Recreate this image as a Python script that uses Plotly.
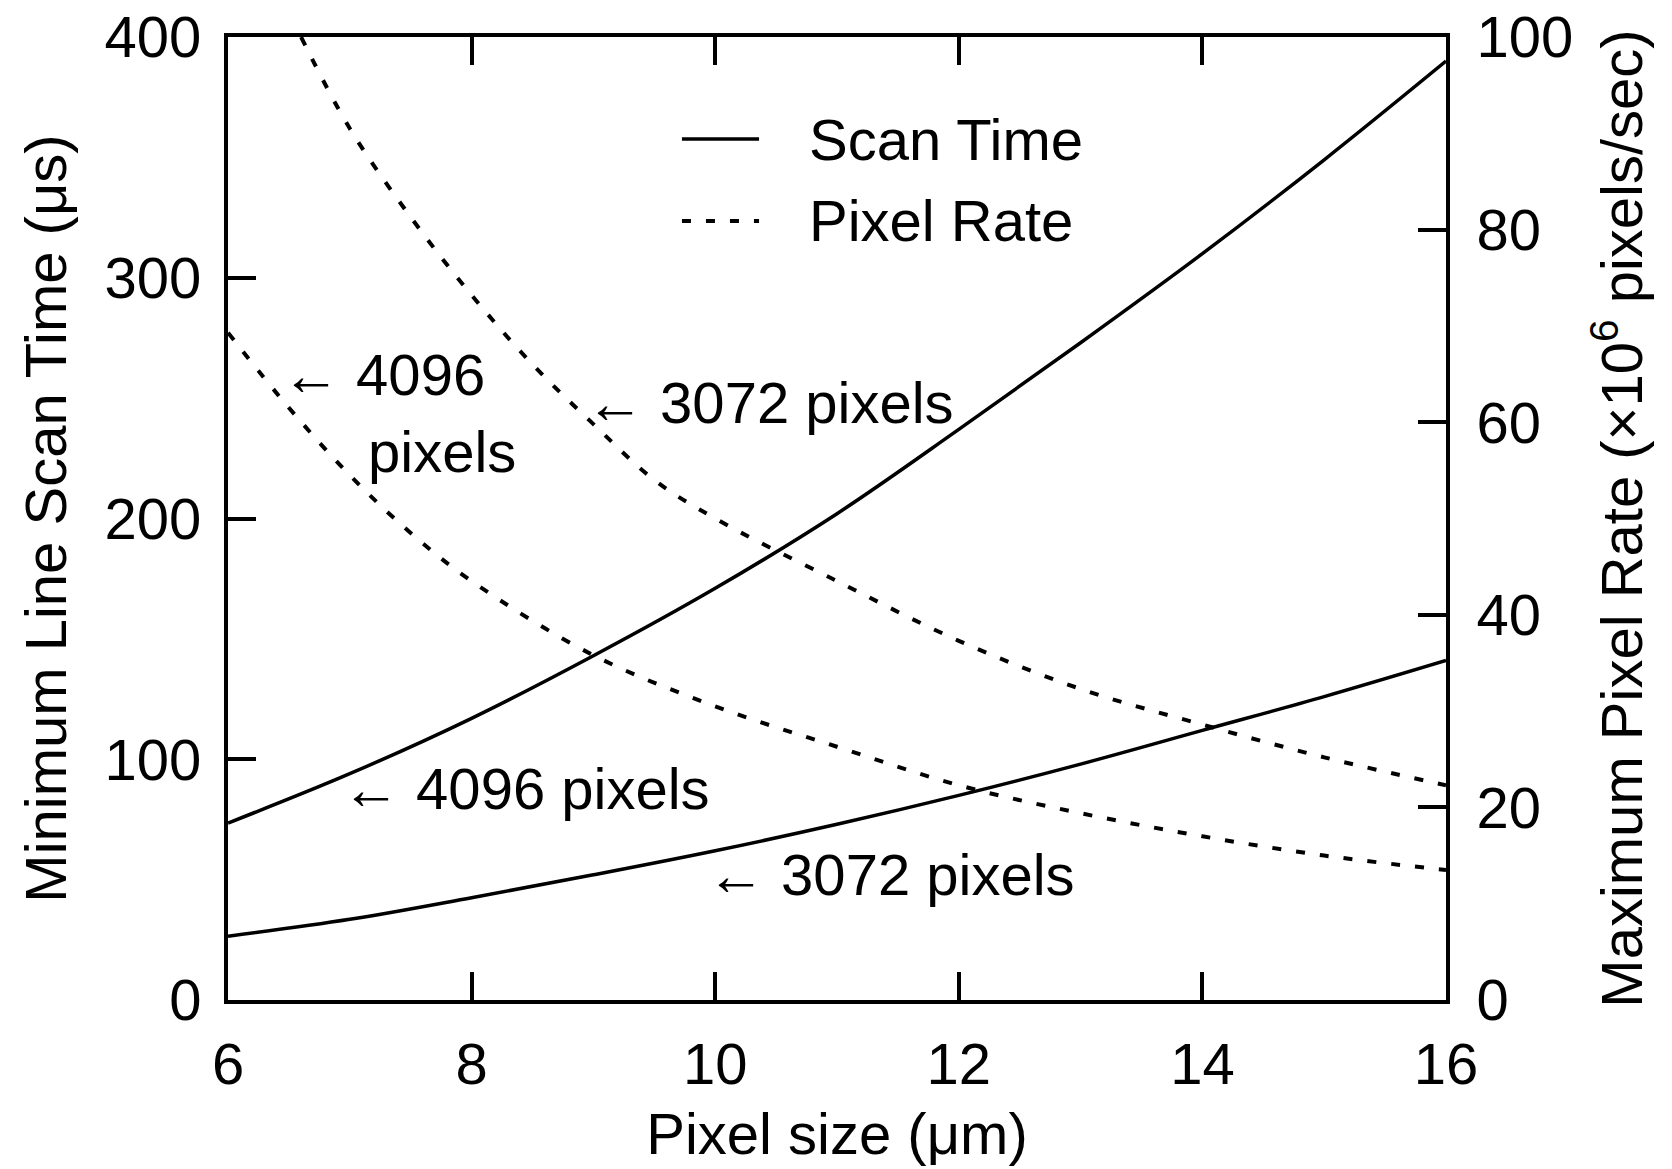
import plotly.graph_objects as go

# ---- data ----
pixel_size = [6, 7, 8, 9, 10, 11, 12, 13, 14, 15, 16]
scan_time_4096 = [73.5, 94, 117, 143, 171, 202, 237, 273, 310, 349, 390]
scan_time_3072 = [26.5, 33.5, 42.5, 52, 62, 73, 85, 98, 112, 126, 141]

rate_4096_x = [6, 6.5, 7, 7.5, 8, 9, 10, 11, 12, 13, 14, 15, 16]
rate_4096 = [69.3, 61.5, 54.5, 48.5, 43.5, 35.8, 30.5, 26.3, 22.3, 19.4, 17, 15, 13.5]

rate_3072_x = [6.6, 7, 7.5, 8, 8.5, 9, 9.5, 10, 11, 12, 13, 14, 15, 16]
rate_3072 = [100, 90.5, 81.3, 73.2, 66, 59.8, 54, 50, 43.5, 37.3, 32.3, 28.6, 25.2, 22.3]

x_ticks = [6, 8, 10, 12, 14, 16]
y_left_ticks = [0, 100, 200, 300, 400]
y_right_ticks = [0, 20, 40, 60, 80, 100]

FONT = "Liberation Sans, Arial, Helvetica, sans-serif"
FS = 58
DOT = "9px,15px"

fig = go.Figure()
fig.add_trace(go.Scatter(x=pixel_size, y=scan_time_4096, mode="lines", name="Scan Time 4096 pixels",
                         line=dict(color="black", width=3.5, shape="spline"), showlegend=False))
fig.add_trace(go.Scatter(x=pixel_size, y=scan_time_3072, mode="lines", name="Scan Time 3072 pixels",
                         line=dict(color="black", width=3.5, shape="spline"), showlegend=False))
fig.add_trace(go.Scatter(x=rate_4096_x, y=rate_4096, mode="lines", name="Pixel Rate 4096 pixels", yaxis="y2",
                         line=dict(color="black", width=4, dash=DOT, shape="spline"), showlegend=False))
fig.add_trace(go.Scatter(x=rate_3072_x, y=rate_3072, mode="lines", name="Pixel Rate 3072 pixels", yaxis="y2",
                         line=dict(color="black", width=4, dash=DOT, shape="spline"), showlegend=False))

axis_common = dict(showgrid=False, zeroline=False, showline=True, linecolor="black", linewidth=4,
                   ticks="inside", ticklen=28, tickwidth=3.5, tickcolor="black",
                   tickfont=dict(family=FONT, size=FS, color="black"))

fig.update_layout(
    width=1672, height=1169,
    margin=dict(l=228, r=226, t=37, b=169, autoexpand=False),
    paper_bgcolor="white", plot_bgcolor="white",
    font=dict(family=FONT, size=FS, color="black"),
    xaxis=dict(range=[6, 16], tickvals=x_ticks, mirror="ticks", ticklabelstandoff=10,
               title=dict(text="Pixel size (μm)", font=dict(family=FONT, size=FS), standoff=20),
               **axis_common),
    yaxis=dict(range=[0, 400], tickvals=y_left_ticks, ticklabelstandoff=11,
               title=dict(text="Minimum Line Scan Time (μs)", font=dict(family=FONT, size=FS), standoff=20),
               **axis_common),
    yaxis2=dict(range=[0, 100], tickvals=y_right_ticks, overlaying="y", side="right", ticklabelstandoff=15,
                title=dict(text="Maximum Pixel Rate (×10<sup>6</sup> pixels/sec)", font=dict(family=FONT, size=FS), standoff=30),
                **axis_common),
    showlegend=False,
)

# manual legend (samples + labels)
fig.add_shape(type="line", xref="paper", yref="paper", x0=0.3727, x1=0.4360, y0=0.894, y1=0.894,
              line=dict(color="black", width=3.5))
fig.add_shape(type="line", xref="paper", yref="paper", x0=0.3727, x1=0.4360, y0=0.809, y1=0.809,
              line=dict(color="black", width=4, dash=DOT))
fig.add_annotation(x=0.4754, y=0.894, xref="paper", yref="paper", text="Scan Time", showarrow=False,
                   xanchor="left", yanchor="middle", font=dict(family=FONT, size=FS))
fig.add_annotation(x=0.4754, y=0.809, xref="paper", yref="paper", text="Pixel Rate", showarrow=False,
                   xanchor="left", yanchor="middle", font=dict(family=FONT, size=FS))

# curve labels
labels = [
    (6.43, 260, "← 4096"),
    (7.13, 228, "pixels"),
    (8.92, 248, "← 3072 pixels"),
    (6.92, 88, "← 4096 pixels"),
    (9.92, 52.3, "← 3072 pixels"),
]
for lx, ly, lt in labels:
    fig.add_annotation(x=lx, y=ly, xref="x", yref="y", text=lt, showarrow=False,
                       xanchor="left", yanchor="middle", font=dict(family=FONT, size=FS))

fig.write_html("out.html")
